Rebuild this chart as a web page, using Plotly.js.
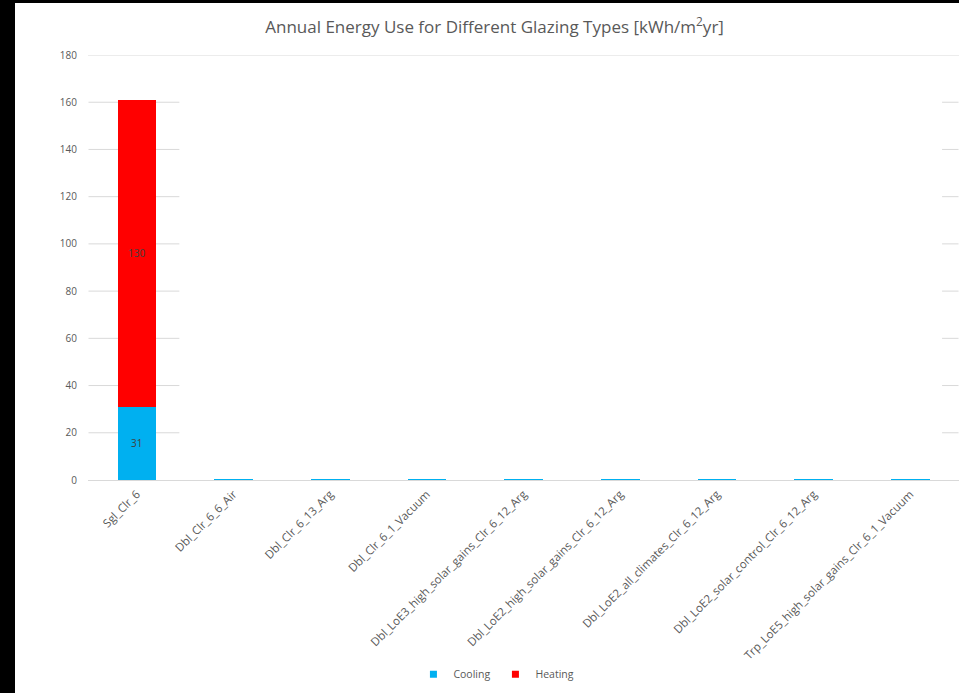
<!DOCTYPE html>
<html>
<head>
<meta charset="utf-8">
<script src="https://cdn.plot.ly/plotly-3.0.1.min.js"></script>
<style>
  html, body { margin: 0; padding: 0; background: #000; width: 959px; height: 693px; overflow: hidden; }
  #chart { position: absolute; left: 15px; top: 3px; width: 944px; height: 690px; background: #fff; }
</style>
</head>
<body>
<div id="chart"></div>
<script>
// Glazing types on the category axis
const glazingTypes = [
  "Sgl_Clr_6",
  "Dbl_Clr_6_6_Air",
  "Dbl_Clr_6_13_Arg",
  "Dbl_Clr_6_1_Vacuum",
  "Dbl_LoE3_high_solar_gains_Clr_6_12_Arg",
  "Dbl_LoE2_high_solar_gains_Clr_6_12_Arg",
  "Dbl_LoE2_all_climates_Clr_6_12_Arg",
  "Dbl_LoE2_solar_control_Clr_6_12_Arg",
  "Trp_LoE5_high_solar_gains_Clr_6_1_Vacuum"
];

// Annual energy use per glazing type [kWh/m2yr]
const coolingValues = [31, 0.6, 0.6, 0.6, 0.6, 0.6, 0.6, 0.6, 0.6];
const heatingValues = [130, 0, 0, 0, 0, 0, 0, 0, 0];

const yTickValues = [0, 20, 40, 60, 80, 100, 120, 140, 160, 180];

const coolingColor = "#00b0f0";
const heatingColor = "#ff0000";
const greyText = "#595959";
const gridGrey = "#d9d9d9";
const fontFamily = "Open Sans, sans-serif";

// Value labels only on segments big enough to carry one
const labelFor = v => (v >= 1 ? String(v) : "");
const labelPos = v => (v >= 1 ? "inside" : "none");

function barTrace(name, values, color) {
  return {
    type: "bar",
    name: name,
    x: glazingTypes,
    y: values,
    text: values.map(labelFor),
    textposition: values.map(labelPos),
    insidetextanchor: "middle",
    textfont: { family: fontFamily, size: 10, color: "#404040" },
    marker: { color: color },
    showlegend: false
  };
}

// Small square legend keys
function legendKey(name, color) {
  return {
    type: "scatter",
    mode: "markers",
    name: name,
    x: [null],
    y: [null],
    marker: { symbol: "square", size: 7, color: color },
    showlegend: true
  };
}

const traces = [
  barTrace("Cooling", coolingValues, coolingColor),
  barTrace("Heating", heatingValues, heatingColor),
  legendKey("Cooling", coolingColor),
  legendKey("Heating", heatingColor)
];

// Gridlines are drawn as segments: full width at the top, short pieces elsewhere
const shapes = [];
yTickValues.forEach(v => {
  if (v === 0) return;
  if (v === 180) {
    shapes.push({ type: "line", xref: "paper", x0: 0, x1: 1, yref: "y", y0: v, y1: v,
                  line: { color: gridGrey, width: 1 }, layer: "below" });
  } else {
    shapes.push({ type: "line", xref: "x", x0: -0.5, x1: 0.44, yref: "y", y0: v, y1: v,
                  line: { color: gridGrey, width: 1 }, layer: "below" });
    shapes.push({ type: "line", xref: "x", x0: 8.33, x1: 8.5, yref: "y", y0: v, y1: v,
                  line: { color: gridGrey, width: 1 }, layer: "below" });
  }
});

const layout = {
  width: 944,
  height: 690,
  barmode: "stack",
  bargap: 0.6,
  paper_bgcolor: "#ffffff",
  plot_bgcolor: "#ffffff",
  margin: { l: 73, r: 0, t: 52, b: 213 },
  font: { family: fontFamily, color: greyText },
  title: {
    text: "Annual Energy Use for Different Glazing Types [kWh/m<sup>2</sup>yr]",
    font: { family: fontFamily, size: 17, color: greyText },
    x: 0.508, xref: "container", xanchor: "center",
    y: 1, yref: "container", yanchor: "top", pad: { t: 18 }
  },
  xaxis: {
    type: "category",
    tickangle: -45,
    tickfont: { size: 11.5, color: greyText },
    showgrid: false,
    showline: true,
    linecolor: gridGrey,
    linewidth: 1,
    ticks: "",
    ticklabelstandoff: 2,
    fixedrange: true
  },
  yaxis: {
    range: [0, 180],
    tickvals: yTickValues,
    ticktext: yTickValues.map(String),
    tickfont: { size: 10, color: greyText },
    showgrid: false,
    zeroline: false,
    showline: false,
    ticks: "",
    ticklabelstandoff: 10,
    fixedrange: true
  },
  shapes: shapes,
  showlegend: true,
  legend: {
    orientation: "h",
    xref: "container", x: 0.51, xanchor: "center",
    yref: "container", y: 0.006, yanchor: "bottom",
    font: { size: 10.5, color: greyText },
    traceorder: "normal"
  }
};

Plotly.newPlot("chart", traces, layout, { displayModeBar: false, staticPlot: true });
</script>
</body>
</html>
